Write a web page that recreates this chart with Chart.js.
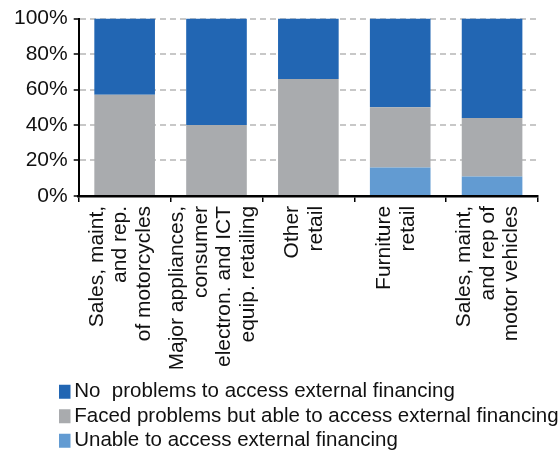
<!DOCTYPE html>
<html>
<head>
<meta charset="utf-8">
<script src="https://cdn.jsdelivr.net/npm/chart.js@4"></script>
<style>
  body { margin: 0; background: #fff; }
</style>
</head>
<body>
<canvas id="chart" width="559" height="452"></canvas>
<script>
// categories (multi-line labels, drawn rotated)
const categories = [
    ['Sales, maint,', 'and rep.', 'of motorcycles'],
    ['Major appliances,', 'consumer', 'electron. and ICT', 'equip. retailing'],
    ['Other', 'retail'],
    ['Furniture', 'retail'],
    ['Sales, maint,', 'and rep of', 'motor vehicles']
];

// shares in percent
const unableValues = [0, 0, 0, 16, 11];
const facedValues = [57, 40, 66, 34, 33];
const noProblemValues = [43, 60, 34, 50, 56];

const yTicks = [0, 20, 40, 60, 80, 100];

Chart.defaults.font.family = "'Liberation Sans', Arial, sans-serif";
Chart.defaults.font.size = 21;
Chart.defaults.color = '#111';

// centre the rotated multi-line labels on their bar and place the legend
const nudge = {
    id: 'nudge',
    afterLayout(chart) {
        const lg = chart.legend;
        lg.left += 51;
        lg.right += 51;
        lg.top += 9;
        lg.bottom += 9;
        chart.scales.x.getLabelItems().forEach(it => {
            const n = Array.isArray(it.label) ? it.label.length : 1;
            it.options.translation[0] -= (n - 1) / 2 * it.font.lineHeight + 4;
        });
    }
};

new Chart(document.getElementById('chart'), {
    type: 'bar',
    data: {
        labels: categories,
        datasets: [
            {
                label: 'Unable to access external financing',
                data: unableValues,
                backgroundColor: '#629BD2'
            },
            {
                label: 'Faced problems but able to access external financing',
                data: facedValues,
                backgroundColor: '#A9ABAE'
            },
            {
                label: 'No  problems to access external financing',
                data: noProblemValues,
                backgroundColor: '#2266B3'
            }
        ]
    },
    options: {
        responsive: false,
        animation: false,
        layout: { padding: { left: 8, right: 21, top: 17, bottom: 0 } },
        datasets: {
            bar: { categoryPercentage: 1, barPercentage: 0.66 }
        },
        scales: {
            x: {
                stacked: true,
                afterFit: axis => {
                    axis.paddingLeft = 0;
                    axis.paddingRight = 0;
                    axis.height -= 6;
                },
                grid: {
                    display: true,
                    offset: true,
                    drawOnChartArea: false,
                    tickLength: 6,
                    color: '#000',
                    lineWidth: 1.5
                },
                border: { color: '#000', width: 2.5 },
                ticks: {
                    autoSkip: false,
                    minRotation: 90,
                    maxRotation: 90,
                    padding: 4,
                    font: { size: 21, lineHeight: 1.12 },
                    color: '#111'
                }
            },
            y: {
                stacked: true,
                min: 0,
                max: 100,
                afterBuildTicks: axis => {
                    axis.ticks = yTicks.map(v => ({ value: v }));
                },
                grid: {
                    color: '#c8c8c8',
                    lineWidth: 2,
                    tickColor: '#000',
                    tickLength: 5,
                    tickWidth: 1.5
                },
                border: { color: '#000', width: 2, dash: [6, 4] },
                ticks: {
                    padding: 6,
                    callback: v => v + '%',
                    font: { size: 21 },
                    color: '#111'
                }
            }
        },
        plugins: {
            legend: {
                position: 'bottom',
                align: 'start',
                reverse: true,
                labels: {
                    usePointStyle: true,
                    pointStyle: 'rect',
                    boxWidth: 1,
                    boxHeight: 14,
                    padding: 4,
                    font: { size: 20.5 },
                    color: '#111'
                }
            },
            tooltip: { enabled: false }
        }
    },
    plugins: [nudge]
});
</script>
</body>
</html>
